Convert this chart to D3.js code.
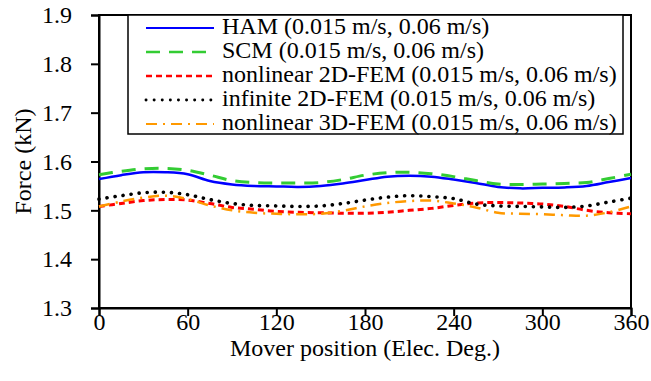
<!DOCTYPE html>
<html>
<head>
<meta charset="utf-8">
<script src="https://cdn.jsdelivr.net/npm/d3@7/dist/d3.min.js"></script>
<style>
  html, body { margin: 0; padding: 0; background: #fff; }
  svg { display: block; font-family: "Liberation Serif", "Times New Roman", serif; }
</style>
</head>
<body>
<svg id="chart" width="651" height="381"></svg>
<script>
// Mover position samples (electrical degrees)
const positions = [0, 15, 30, 45, 60, 75, 90, 105, 120, 135, 150, 165, 180,
                   195, 210, 225, 240, 255, 270, 285, 300, 315, 330, 345, 360];

// Force (kN) for each method
const hamForce = [1.564, 1.572, 1.578, 1.578, 1.574, 1.560, 1.553, 1.550, 1.549, 1.548, 1.550, 1.555, 1.562,
                  1.569, 1.571, 1.569, 1.563, 1.556, 1.548, 1.545, 1.546, 1.547, 1.550, 1.558, 1.566];
const scmForce = [1.573, 1.580, 1.585, 1.586, 1.582, 1.572, 1.561, 1.557, 1.556, 1.556, 1.557, 1.563, 1.572,
                  1.577, 1.578, 1.575, 1.569, 1.561, 1.554, 1.553, 1.554, 1.555, 1.557, 1.565, 1.574];
const nonlinear2DForce = [1.508, 1.514, 1.520, 1.522, 1.521, 1.514, 1.506, 1.502, 1.498, 1.496, 1.495, 1.494, 1.494,
                          1.496, 1.500, 1.504, 1.510, 1.515, 1.516, 1.515, 1.513, 1.508, 1.500, 1.495, 1.493];
const infinite2DForce = [1.523, 1.530, 1.536, 1.537, 1.532, 1.522, 1.514, 1.510, 1.509, 1.508, 1.509, 1.514, 1.521,
                         1.527, 1.530, 1.528, 1.524, 1.513, 1.509, 1.508, 1.507, 1.506, 1.509, 1.517, 1.525];
const nonlinear3DForce = [1.508, 1.518, 1.526, 1.530, 1.523, 1.510, 1.500, 1.495, 1.493, 1.492, 1.493, 1.499, 1.508,
                          1.515, 1.519, 1.520, 1.514, 1.506, 1.495, 1.493, 1.492, 1.490, 1.489, 1.496, 1.508];

const xTicks = [0, 60, 120, 180, 240, 300, 360];
const yTicks = [1.3, 1.4, 1.5, 1.6, 1.7, 1.8, 1.9];

const seriesNames = [
  "HAM (0.015 m/s, 0.06 m/s)",
  "SCM (0.015 m/s, 0.06 m/s)",
  "nonlinear 2D-FEM (0.015 m/s, 0.06 m/s)",
  "infinite 2D-FEM (0.015 m/s, 0.06 m/s)",
  "nonlinear 3D-FEM (0.015 m/s, 0.06 m/s)"
];
const seriesValues = [hamForce, scmForce, nonlinear2DForce, infinite2DForce, nonlinear3DForce];

// Line styles per series
const styles = [
  { color: "#0000ff", width: 2.5, dash: null, cap: "butt" },
  { color: "#33cc33", width: 3, dash: "14 9", cap: "butt" },
  { color: "#ff0000", width: 3, dash: "6 4", cap: "butt" },
  { color: "#000000", width: 3.6, dash: "0.1 8", cap: "round" },
  { color: "#ff9900", width: 2.5, dash: "11 6 2 6", cap: "butt" }
];

const svg = d3.select("#chart");
const plotLeft = 99, plotRight = 631, plotTop = 15, plotBottom = 308;
const fontSize = "24px";

const x = d3.scaleLinear().domain([0, 360]).range([plotLeft, plotRight]);
const y = d3.scaleLinear().domain([1.3, 1.9]).range([plotBottom, plotTop]);

// Plot frame
svg.append("rect")
  .attr("x", plotLeft).attr("y", plotTop)
  .attr("width", plotRight - plotLeft).attr("height", plotBottom - plotTop)
  .attr("fill", "none").attr("stroke", "#000").attr("stroke-width", 2);

// Axes
const xAxis = svg.append("g")
  .attr("transform", `translate(0,${plotBottom})`)
  .call(d3.axisBottom(x).tickValues(xTicks).tickSize(8).tickPadding(-3).tickFormat(d3.format("d")));
const yAxis = svg.append("g")
  .attr("transform", `translate(${plotLeft},0)`)
  .call(d3.axisLeft(y).tickValues(yTicks).tickSize(8).tickPadding(19).tickFormat(d3.format(".1f")));

[xAxis, yAxis].forEach(g => {
  g.select(".domain").attr("stroke", "#000").attr("stroke-width", 2);
  g.selectAll(".tick line").attr("stroke", "#000").attr("stroke-width", 2);
  g.selectAll(".tick text")
    .attr("fill", "#000")
    .style("font-family", "'Liberation Serif', 'Times New Roman', serif")
    .style("font-size", fontSize);
});

// Axis titles
svg.append("text")
  .attr("x", (plotLeft + plotRight) / 2).attr("y", 356)
  .attr("text-anchor", "middle")
  .style("font-size", fontSize)
  .text("Mover position (Elec. Deg.)");

svg.append("text")
  .attr("transform", `translate(31,${(plotTop + plotBottom) / 2}) rotate(-90)`)
  .attr("text-anchor", "middle")
  .style("font-size", fontSize)
  .text("Force (kN)");

// Curves
const line = d3.line()
  .x((d, i) => x(positions[i]))
  .y(d => y(d))
  .curve(d3.curveCatmullRom.alpha(0.5));

const plot = svg.append("g");
seriesValues.forEach((vals, i) => {
  const s = styles[i];
  plot.append("path")
    .datum(vals)
    .attr("d", line)
    .attr("fill", "none")
    .attr("stroke", s.color)
    .attr("stroke-width", s.width)
    .attr("stroke-linecap", s.cap)
    .attr("stroke-dasharray", s.dash);
});

// Legend
const legend = svg.append("g");
legend.append("rect")
  .attr("x", 128).attr("y", 15)
  .attr("width", 623 - 128).attr("height", 134 - 15)
  .attr("fill", "#fff").attr("stroke", "#000").attr("stroke-width", 1.5);

seriesNames.forEach((name, i) => {
  const s = styles[i];
  const baseline = 34 + i * 24;
  legend.append("line")
    .attr("x1", 146).attr("x2", 214)
    .attr("y1", baseline - 6).attr("y2", baseline - 6)
    .attr("stroke", s.color)
    .attr("stroke-width", s.width * 0.8)
    .attr("stroke-linecap", s.cap)
    .attr("stroke-dasharray", s.dash);
  legend.append("text")
    .attr("x", 222).attr("y", baseline)
    .style("font-size", fontSize)
    .text(name);
});
</script>
</body>
</html>
